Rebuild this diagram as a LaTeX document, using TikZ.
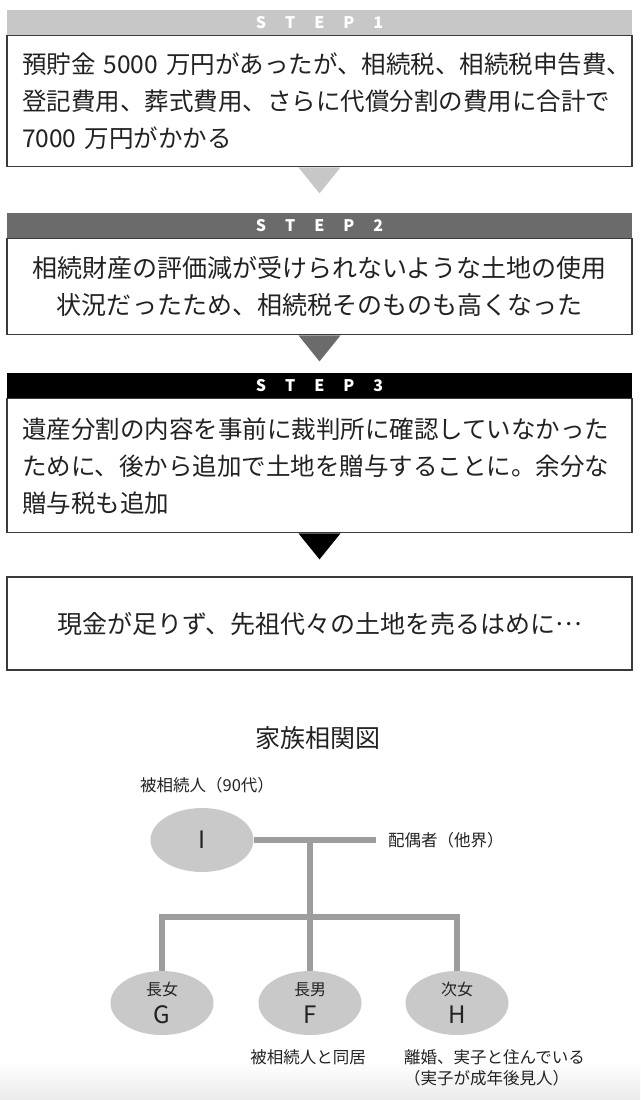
\documentclass[tikz,border=0pt]{standalone}
\usepackage{fontspec}
\setmainfont{Noto Sans CJK JP}
\usetikzlibrary{calc,positioning,shapes.geometric}
\definecolor{stepA}{HTML}{C7C7C7}
\definecolor{stepB}{HTML}{6B6B6B}
\definecolor{stepC}{HTML}{000000}
\definecolor{boxline}{HTML}{3A3A3A}
\definecolor{famgray}{HTML}{9D9D9D}
\definecolor{famfill}{HTML}{C9C9C9}
\definecolor{ink}{HTML}{222222}
\newcommand{\stepname}[1]{S\hspace{19pt}T\hspace{19pt}E\hspace{19pt}P\hspace{19pt}#1}
\newcommand{\kidname}[2]{{\fontsize{16}{28}\selectfont #1}\\{\fontsize{24}{28}\selectfont #2}}
\tikzset{
  stephead/.style={rectangle,fill=#1,minimum width=625pt,minimum height=25pt,inner sep=0pt,
    text=white,font=\fontsize{16}{16}\selectfont\bfseries},
  stepbox/.style={rectangle,draw=boxline,line width=1.2pt,fill=white,text width=595pt,
    inner xsep=15pt,inner ysep=0pt,minimum height=#1,text=ink,font=\fontsize{24.5}{37}\selectfont},
  person/.style={ellipse,fill=famfill,minimum width=103pt,minimum height=64pt,inner sep=0pt,
    align=center,text=ink,font=\fontsize{16}{28}\selectfont},
  famlabel/.style={inner sep=0pt,text=ink,font=\fontsize{16.5}{21}\selectfont},
  famline/.style={draw=famgray,line width=5.5pt}
}
\begin{document}
\begin{tikzpicture}[x=1pt,y=-1pt]
  \useasboundingbox (0,0) rectangle (640,1100);
  \shade[top color=white,bottom color=black!8] (0,1062) rectangle (640,1100);

  \node[stephead=stepA] (head1) at (319.5,22.5) {\stepname{1}};
  \node[stepbox=131pt,align=left,below=0pt of head1] (box1)
    {預貯金~5000~万円があったが、相続税、相続税申告費、\\登記費用、葬式費用、さらに代償分割の費用に合計で\\7000~万円がかかる};
  \node[stephead=stepB] (head2) at (319.5,225.5) {\stepname{2}};
  \node[stepbox=96pt,align=center,below=0pt of head2,font=\fontsize{25}{37}\selectfont] (box2)
    {相続財産の評価減が受けられないような土地の使用\\状況だったため、相続税そのものも高くなった};
  \node[stephead=stepC] (head3) at (319.5,385.5) {\stepname{3}};
  \node[stepbox=134pt,align=left,below=0pt of head3] (box3)
    {遺産分割の内容を事前に裁判所に確認していなかった\\ために、後から追加で土地を贈与することに。余分な\\贈与税も追加};
  \node[stepbox=93pt,align=center,font=\fontsize{25}{37}\selectfont] (box4) at (319.5,623.5)
    {現金が足りず、先祖代々の土地を売るはめに\raisebox{0.3em}{…}};
  \foreach \b/\c in {box1/stepA,box2/stepB,box3/stepC}
    \fill[\c] ($(\b.south)+(-21,0)$) -- ($(\b.south)+(21,0)$) -- ($(\b.south)+(0,26)$) -- cycle;

  \node[font=\fontsize{25}{25}\selectfont,text=ink] (title) at (318,738) {家族相関図};
  \node[person,font=\fontsize{24}{24}\selectfont] (I) at (202,840) {I};
  \node[famlabel] (Ilab) at (207,785) {被相続人（90代）};
  \coordinate (spouse) at (376,840);
  \node[famlabel,anchor=west] (spouselab) at (388,840) {配偶者（他界）};
  \coordinate (bar) at (310,917);
  \node[person] (G) at (162,1003) {\kidname{長女}{G}};
  \node[person] (F) at (310,1003) {\kidname{長男}{F}};
  \node[person] (H) at (457,1003) {\kidname{次女}{H}};
  \draw[famline] (I.east) -- (spouse);
  \draw[famline] (I.east -| bar) -- (F.north);
  \draw[famline] (G.north) |- (bar) -| (H.north);
  \node[famlabel] (Fnote) at (308,1057) {被相続人と同居};
  \node[famlabel,align=left,anchor=west] (Hnote) at (404,1068) {離婚、実子と住んでいる\\（実子が成年後見人）};
\end{tikzpicture}
\end{document}
